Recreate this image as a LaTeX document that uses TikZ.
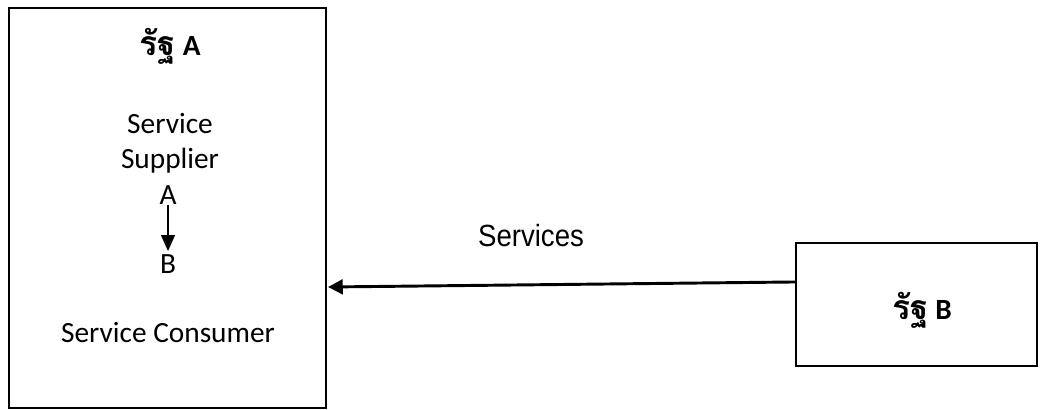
\documentclass[tikz,border=0pt]{standalone}
\usepackage{fontspec}
\setmainfont{Carlito}
\newfontfamily\thaifont[Script=Thai,Scale=1.15]{Loma}
\newfontfamily\narrowfont[FakeStretch=0.9]{Liberation Sans}
\usepackage{tikz}
\usetikzlibrary{arrows.meta}
\usetikzlibrary{positioning}
\tikzset{>=latex}
\tikzstyle{statebox} = [rectangle, draw=black, line width=1.1pt, inner sep=0pt]
\tikzstyle{lbl} = [inner sep=0pt, align=center, font=\fontsize{22}{26.5}\selectfont]
\newcommand{\ratthai}{{\thaifont\bfseries รัฐ}}

\begin{document}
\begin{tikzpicture}[x=0.75pt, y=-0.75pt]
\useasboundingbox (0,0) rectangle (1045,410);
\node [statebox, minimum width=237.75pt, minimum height=300pt] (SA) at (167.5, 208) {};
\node [statebox, minimum width=180.75pt, minimum height=92.25pt] (SB) at (916.5, 304.5) {};
\node [lbl] (titleA) at (170, 46) {\ratthai\ \textbf{A}};
\node [lbl] (supp) at (170, 143) {Service\\Supplier};
\node [lbl, anchor=base] (A) at (168, 204) {A};
\node [lbl, anchor=base] (B) at (168, 273) {B};
\node [lbl] (cons) at (168, 333) {Service Consumer};
\node [lbl] (titleB) at (922, 310) {\ratthai\ \textbf{B}};
\node [inner sep=0pt, font=\narrowfont\fontsize{23}{27}\selectfont] (serv) at (531, 236) {Services};
\draw [-{Triangle[length=12pt, width=10pt]}, line width=2pt] (A.south) ++(0,1) -- ([yshift=2pt]B.north);
\draw [-{Triangle[length=11pt, width=11pt]}, line width=2.2pt] ([yshift=16.9pt]SB.west) -- ([yshift=-59.25pt, xshift=1pt]SA.east);
\end{tikzpicture}
\end{document}
